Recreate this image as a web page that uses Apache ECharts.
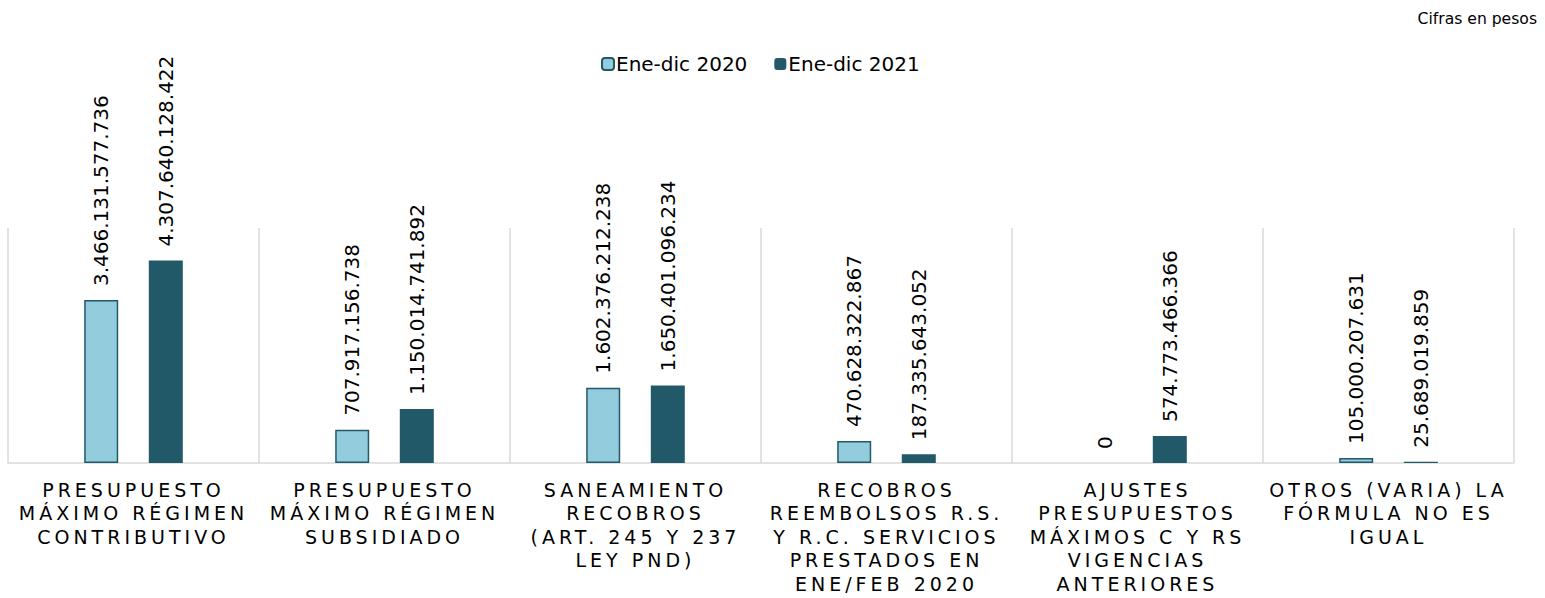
<!DOCTYPE html>
<html>
<head>
<meta charset="utf-8">
<script src="https://cdn.jsdelivr.net/npm/echarts@6/dist/echarts.min.js"></script>
<style>
  html, body { margin: 0; padding: 0; background: #fff; }
  #main { width: 1545px; height: 598px; }
</style>
</head>
<body>
<div id="main"></div>
<script>
// categorias (saltos de linea como en el grafico original)
var categories = [
	'PRESUPUESTO\nMÁXIMO RÉGIMEN\nCONTRIBUTIVO',
	'PRESUPUESTO\nMÁXIMO RÉGIMEN\nSUBSIDIADO',
	'SANEAMIENTO\nRECOBROS\n(ART. 245 Y 237\nLEY PND)',
	'RECOBROS\nREEMBOLSOS R.S.\nY R.C. SERVICIOS\nPRESTADOS EN\nENE/FEB 2020',
	'AJUSTES\nPRESUPUESTOS\nMÁXIMOS C Y RS\nVIGENCIAS\nANTERIORES',
	'OTROS (VARIA) LA\nFÓRMULA NO ES\nIGUAL'
];
var seriesNames = ['Ene-dic 2020', 'Ene-dic 2021'];
var values2020 = [3466131577736, 707917156738, 1602376212238, 470628322867, 0, 105000207631];
var values2021 = [4307640128422, 1150014741892, 1650401096234, 187335643052, 574773466366, 25689019859];
var yMax = 5000000000000;

var FONT = 'DejaVu Sans';
var LIGHT = '#93CDDD';
var DARK = '#215968';

function fmtPesos(v) {
	return String(Math.round(v)).replace(/\B(?=(\d{3})+(?!\d))/g, '.');
}

// barras en cero sin borde visible
function toItems(arr) {
	return arr.map(function(v) {
		return v === 0 ? { value: v, itemStyle: { borderWidth: 0 } } : v;
	});
}

var myChart = echarts.init(document.getElementById('main'), null, {renderer: 'svg'});

var labelCfg = {
	show: true,
	position: 'top',
	rotate: 90,
	align: 'left',
	verticalAlign: 'middle',
	distance: 14,
	fontFamily: FONT,
	fontSize: 20,
	color: '#000',
	formatter: function(p) { return fmtPesos(p.value); }
};

var option = {
	animation: false,
	title: {
		text: 'Cifras en pesos',
		right: 3,
		top: 6,
		textStyle: { fontFamily: FONT, fontSize: 15.6, fontWeight: 'normal', color: '#000' }
	},
	legend: {
		data: seriesNames,
		left: 596,
		top: 49,
		itemWidth: 12,
		itemHeight: 12,
		itemGap: 27,
		textStyle: { fontFamily: FONT, fontSize: 20, color: '#000', padding: [0, 0, 0, -3] }
	},
	grid: { left: 8, right: 31, top: 228, bottom: 135, containLabel: false },
	xAxis: {
		type: 'category',
		data: categories,
		axisLine: { lineStyle: { color: '#D9D9D9', width: 1.5 } },
		axisTick: { show: false },
		splitLine: { show: true, interval: 0, lineStyle: { color: '#D9D9D9', width: 1.5 } },
		axisLabel: {
			interval: 0,
			margin: 15,
			fontFamily: FONT,
			fontSize: 19,
			lineHeight: 23.5,
			color: '#000',
			align: 'center'
		}
	},
	yAxis: {
		type: 'value',
		min: 0,
		max: yMax,
		show: false,
		splitLine: { show: false }
	},
	series: [
		{
			name: seriesNames[0],
			type: 'bar',
			data: toItems(values2020),
			barWidth: 34,
			barGap: '90%',
			itemStyle: { color: LIGHT, borderColor: DARK, borderWidth: 1.5 },
			label: labelCfg
		},
		{
			name: seriesNames[1],
			type: 'bar',
			data: toItems(values2021),
			barWidth: 34,
			itemStyle: { color: DARK },
			label: labelCfg
		}
	]
};

myChart.setOption(option);

// espaciado de caracteres en etiquetas del eje (como en el original)
var catLines = {};
for (var i = 0; i < categories.length; i++) {
	var parts = categories[i].split('\n');
	for (var j = 0; j < parts.length; j++) { catLines[parts[j]] = true; }
}
function spaceAxisLabels() {
	var texts = document.querySelectorAll('#main svg text');
	for (var k = 0; k < texts.length; k++) {
		var t = texts[k];
		if (catLines[t.textContent]) {
			t.style.letterSpacing = '4px';
		}
	}
}
spaceAxisLabels();
myChart.on('finished', spaceAxisLabels);
</script>
</body>
</html>
